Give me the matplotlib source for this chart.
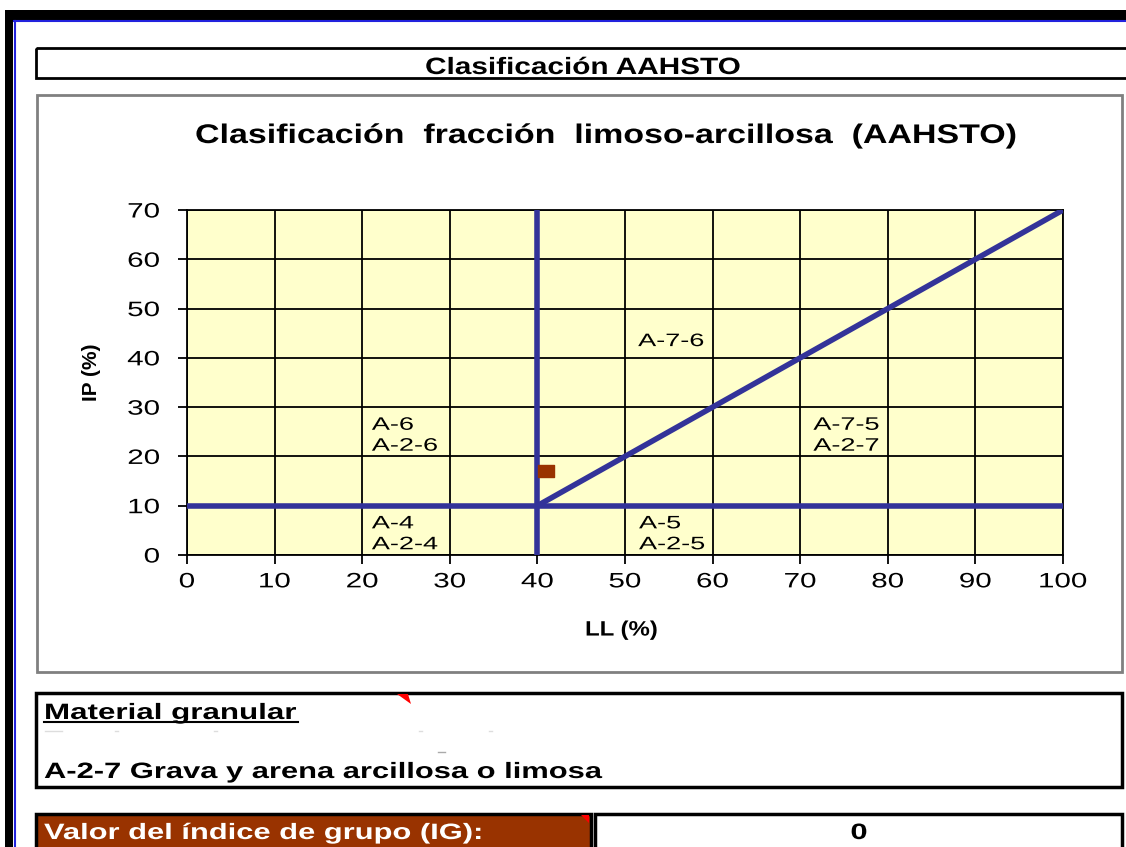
import matplotlib
matplotlib.use('Agg')
import matplotlib.pyplot as plt
from matplotlib.patches import Rectangle, Polygon
from matplotlib.patheffects import AbstractPathEffect
from matplotlib.transforms import Affine2D

plt.rcParams['font.family'] = ['Liberation Sans', 'DejaVu Sans']

# sample point (LL, IP)
ll_sample = [41]
ip_sample = [17]

# classification boundaries
ll_limit = [40, 40]
ll_limit_ip = [0, 70]
ip_limit_ll = [0, 100]
ip_limit = [10, 10]
aline_ll = [40, 100]
aline_ip = [10, 70]

# zone labels
zone_names = ['A-7-6', 'A-6\nA-2-6', 'A-7-5\nA-2-7', 'A-4\nA-2-4', 'A-5\nA-2-5']
zone_ll = [51.5, 21.1, 71.5, 21.1, 51.6]
zone_ip = [43.3, 24.2, 24.2, 4.2, 4.2]

x_ticks = list(range(0, 101, 10))
y_ticks = list(range(0, 71, 10))

ig_value = '0'
group_text = 'A-2-7 Grava y arena arcillosa o limosa'

W, H = 1126, 847
navy = '#333399'
brown = '#993300'


class Stretch(AbstractPathEffect):
    """draw text glyphs widened horizontally (the source screenshot is stretched)"""

    def __init__(self, sx, anchor='left'):
        super().__init__()
        self.sx = sx
        self.anchor = anchor

    def draw_path(self, renderer, gc, tpath, affine, rgbFace=None):
        ext = tpath.get_extents()
        cx = {'left': 0, 'center': (ext.x0 + ext.x1) / 2, 'right': ext.x1}[self.anchor]
        st = Affine2D().translate(-cx, 0).scale(self.sx, 1).translate(cx, 0)
        renderer.draw_path(gc, tpath, st + affine, rgbFace)


fig = plt.figure(figsize=(W / 100, H / 100), dpi=100)

# page layer in pixel coordinates
bg = fig.add_axes([0, 0, 1, 1], zorder=0)
bg.set_xlim(0, W)
bg.set_ylim(H, 0)
bg.axis('off')

# outer frame
bg.add_patch(Rectangle((5, 10), W, 10, color='black', lw=0))
bg.add_patch(Rectangle((5, 10), 8, H, color='black', lw=0))
bg.plot([14, W], [21, 21], color='#2222dd', lw=1.5)
bg.plot([14.5, 14.5], [21, H], color='#2222dd', lw=1.5)

# title box
bg.add_patch(Rectangle((36, 48), W - 33, 30, fill=False, ec='black', lw=2))
bg.text(583, 74, 'Clasificación AAHSTO', ha='center', va='baseline',
        fontsize=17, fontweight='bold', path_effects=[Stretch(1.26, 'center')])

# chart area box
bg.add_patch(Rectangle((37, 95), 1085, 577, fill=False, ec='#808080', lw=2))
bg.text(605, 143, 'Clasificación  fracción  limoso-arcillosa  (AAHSTO)',
        ha='center', va='baseline', fontsize=19.4, fontweight='bold',
        path_effects=[Stretch(1.26, 'center')])

# material box
bg.add_patch(Rectangle((36, 693), 1086, 94, fill=False, ec='black', lw=2.5))
bg.text(44, 719, 'Material granular', ha='left', va='baseline',
        fontsize=16, fontweight='bold', path_effects=[Stretch(1.41)])
bg.plot([44, 298], [722, 722], color='black', lw=1.5)
bg.text(44, 778, group_text, ha='left', va='baseline',
        fontsize=16, fontweight='bold', path_effects=[Stretch(1.39)])
bg.add_patch(Polygon([[397, 694], [408, 694], [411, 704]], color='red', lw=0))
for gx in [(45, 62), (115, 118), (214, 217), (419, 422), (489, 492)]:
    bg.plot(gx, [731, 731], color='#dddddd', lw=1)
bg.plot([438, 445], [752, 752], color='#aaaaaa', lw=1)

# index box
bg.add_patch(Rectangle((36, 814), 555, 40, fc=brown, ec='black', lw=2.5))
bg.text(44, 839, 'Valor del índice de grupo (IG):', ha='left', va='baseline',
        fontsize=16, fontweight='bold', color='white', path_effects=[Stretch(1.39)])
bg.add_patch(Polygon([[581, 815], [589, 815], [589, 823]], color='red', lw=0))
bg.add_patch(Rectangle((595, 814), 527, 40, fc='white', ec='black', lw=2.5))
bg.text(859, 839, ig_value, ha='center', va='baseline', fontsize=16,
        fontweight='bold', path_effects=[Stretch(1.39, 'center')])

# chart
x0, x1 = 187, 1063
y0, y1 = 555, 210
ax = fig.add_axes([x0 / W, 1 - y0 / H, (x1 - x0) / W, (y0 - y1) / H], zorder=1)
ax.set_facecolor('#FFFFCC')
ax.set_xlim(0, 100)
ax.set_ylim(0, 70)
ax.set_xticks(x_ticks)
ax.set_yticks(y_ticks)
ax.grid(True, color='black', lw=1.3)
ax.set_axisbelow(True)
for s in ax.spines.values():
    s.set_color('black')
    s.set_linewidth(1.3)
ax.tick_params(direction='out', length=6.5, width=1.3, labelsize=15, colors='black')
ax.tick_params(axis='x', pad=6)
ax.tick_params(axis='y', pad=13)
for lab in ax.get_xticklabels():
    lab.set_path_effects([Stretch(1.42, 'center')])
for lab in ax.get_yticklabels():
    lab.set_path_effects([Stretch(1.42, 'right')])

ax.plot(ll_limit, ll_limit_ip, color=navy, lw=4, solid_capstyle='butt', zorder=3)
ax.plot(ip_limit_ll, ip_limit, color=navy, lw=4, solid_capstyle='butt', zorder=3)
ax.plot(aline_ll, aline_ip, color=navy, lw=4, solid_capstyle='butt', zorder=3)
box_marker = [(-1, -0.7), (1, -0.7), (1, 0.7), (-1, 0.7), (-1, -0.7)]
ax.plot(ll_sample, ip_sample, ls='none', marker=box_marker, color=brown,
        mec=brown, ms=12, zorder=4, clip_on=False)

for name, lx, ly in zip(zone_names, zone_ll, zone_ip):
    ax.text(lx, ly, name, ha='left', va='center', fontsize=13, linespacing=1.3,
            path_effects=[Stretch(1.5)])

ax.set_xlabel('LL (%)', fontsize=15, fontweight='bold', va='top',
              path_effects=[Stretch(1.15, 'center')])
ax.xaxis.set_label_coords(0.496, -0.19)
ax.set_ylabel('IP (%)', fontsize=15, fontweight='bold')
ax.yaxis.set_label_coords(-0.098, 0.53)

fig.savefig('out.png', dpi=100)
